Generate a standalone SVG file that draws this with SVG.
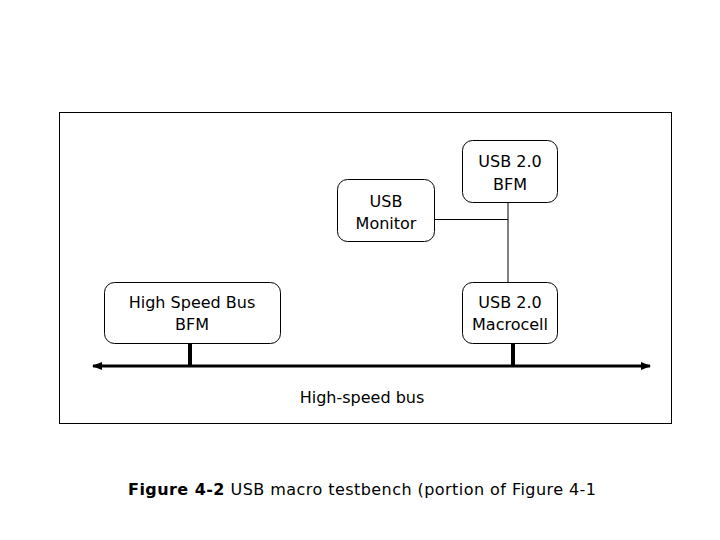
<svg xmlns="http://www.w3.org/2000/svg" width="720" height="540" viewBox="0 0 720 540">
<style>
.box{fill:#fff;stroke:#000;stroke-width:1}
.t{font-family:"DejaVu Sans","Liberation Sans",Arial,sans-serif;font-size:16px;fill:#000;text-anchor:middle}
.thin{stroke:#000;stroke-width:1;fill:none}
.thick{stroke:#000;stroke-width:4;fill:none}
</style>
<defs>
<marker id="ah" markerWidth="10" markerHeight="8" refX="9" refY="4" orient="auto-start-reverse" markerUnits="userSpaceOnUse">
<path d="M0,0 L10,4 L0,8 Z" fill="#000"/>
</marker>
</defs>
<rect width="720" height="540" fill="#fff"/>
<rect x="59.5" y="112.5" width="612" height="311" fill="none" stroke="#000" stroke-width="1"/>
<g id="connectors">
<line class="thin" x1="508" y1="202" x2="508" y2="282"/>
<line class="thin" x1="434" y1="219.5" x2="508" y2="219.5"/>
<line class="thick" x1="190" y1="343" x2="190" y2="366"/>
<line class="thick" x1="513" y1="343" x2="513" y2="366"/>
<line x1="93" y1="366" x2="650" y2="366" stroke="#000" stroke-width="3" marker-start="url(#ah)" marker-end="url(#ah)"/>
</g>
<g id="usb-bfm">
<rect class="box" x="462.5" y="140.5" width="95" height="62" rx="10"/>
<text class="t" x="510" y="167">USB 2.0</text>
<text class="t" x="510" y="190">BFM</text>
</g>
<g id="usb-monitor">
<rect class="box" x="337.5" y="179.5" width="97" height="62" rx="10"/>
<text class="t" x="386" y="207">USB</text>
<text class="t" x="386" y="229">Monitor</text>
</g>
<g id="hs-bus-bfm">
<rect class="box" x="104.5" y="282.5" width="176" height="61" rx="10"/>
<text class="t" x="192" y="308">High Speed Bus</text>
<text class="t" x="192" y="330">BFM</text>
</g>
<g id="usb-macrocell">
<rect class="box" x="462.5" y="282.5" width="95" height="61" rx="10"/>
<text class="t" x="510" y="308">USB 2.0</text>
<text class="t" x="510" y="330">Macrocell</text>
</g>
<text class="t" x="362" y="403">High-speed bus</text>
<text x="128" y="495" font-family="'DejaVu Sans','Liberation Sans',Arial,sans-serif" font-size="16" fill="#000" textLength="468" lengthAdjust="spacing"><tspan font-weight="bold">Figure 4-2</tspan> USB macro testbench (portion of Figure 4-1</text>
</svg>
